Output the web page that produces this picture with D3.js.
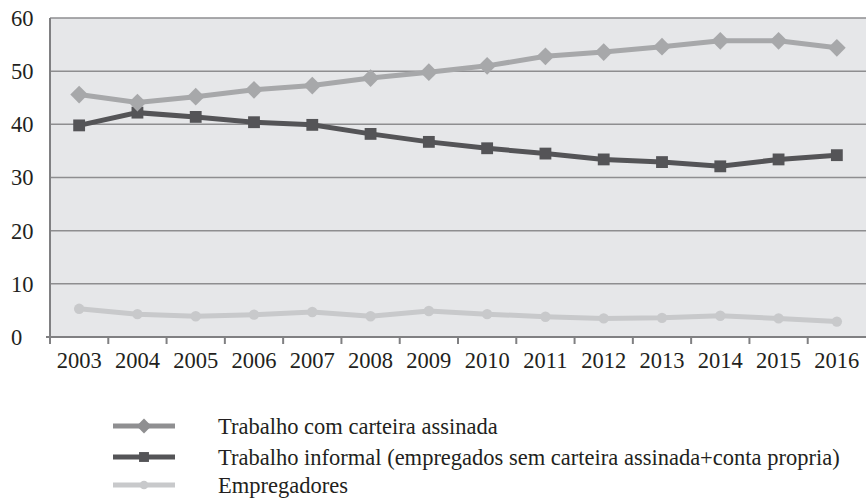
<!DOCTYPE html>
<html>
<head>
<meta charset="utf-8">
<script src="https://cdn.jsdelivr.net/npm/d3@7"></script>
<style>
  body { margin: 0; background: #fff; }
  text { font-family: "Liberation Serif", "Times New Roman", serif; fill: #231f20; }
</style>
</head>
<body>
<script>
const width = 868;
const height = 498;
const margin = { top: 18, right: 2, bottom: 161, left: 50 };

const anos = ["2003", "2004", "2005", "2006", "2007", "2008", "2009",
  "2010", "2011", "2012", "2013", "2014", "2015", "2016"];
const carteira = [45.6, 44.1, 45.2, 46.5, 47.3, 48.7, 49.8, 51.0, 52.8, 53.6, 54.6, 55.7, 55.7, 54.4];
const informal = [39.8, 42.2, 41.4, 40.4, 39.9, 38.2, 36.7, 35.5, 34.5, 33.4, 32.9, 32.1, 33.4, 34.2];
const empregadores = [5.3, 4.3, 3.9, 4.2, 4.7, 3.9, 4.9, 4.3, 3.8, 3.5, 3.6, 4.0, 3.5, 2.9];
const ticksY = [0, 10, 20, 30, 40, 50, 60];

const series = [
  { nome: "Trabalho com carteira assinada", valores: carteira, cor: "#a7a8aa", corLegenda: "#8f8f91", simbolo: d3.symbolDiamond2, tam: 200 },
  { nome: "Trabalho informal (empregados sem carteira assinada+conta propria)", valores: informal, cor: "#545457", corLegenda: "#545457", simbolo: d3.symbolSquare, tam: 140 },
  { nome: "Empregadores", valores: empregadores, cor: "#c8c9cb", corLegenda: "#c8c9cb", simbolo: d3.symbolCircle, tam: 85 },
];

const fonte = 22.5;

const svg = d3.select("body").append("svg")
  .attr("width", width)
  .attr("height", height);

const x = d3.scaleBand()
  .domain(anos)
  .range([margin.left, width - margin.right])
  .paddingInner(0);

const y = d3.scaleLinear()
  .domain([0, 60])
  .range([height - margin.bottom, margin.top]);

// fundo
svg.append("rect")
  .attr("x", margin.left)
  .attr("y", margin.top)
  .attr("width", width - margin.right - margin.left)
  .attr("height", y(0) - margin.top)
  .attr("fill", "#e6e7e9");

// grade
svg.append("g")
  .selectAll("line")
  .data(ticksY.slice(1))
  .join("line")
  .attr("x1", margin.left)
  .attr("x2", width - margin.right)
  .attr("y1", (d) => y(d))
  .attr("y2", (d) => y(d))
  .attr("stroke", "#8e8e90")
  .attr("stroke-width", 1.5);

// rótulos do eixo y
svg.append("g")
  .selectAll("text")
  .data(ticksY)
  .join("text")
  .attr("x", 11)
  .attr("y", (d) => y(d))
  .attr("dy", "0.35em")
  .attr("font-size", fonte)
  .text((d) => d);

// eixo y
svg.append("line")
  .attr("x1", margin.left).attr("x2", margin.left)
  .attr("y1", margin.top).attr("y2", y(0) + 7)
  .attr("stroke", "#808082")
  .attr("stroke-width", 2);

// eixo x
svg.append("line")
  .attr("x1", margin.left - 4).attr("x2", width - margin.right)
  .attr("y1", y(0)).attr("y2", y(0))
  .attr("stroke", "#808082")
  .attr("stroke-width", 2);

svg.append("g")
  .selectAll("line")
  .data(anos.slice(1))
  .join("line")
  .attr("x1", (d) => x(d))
  .attr("x2", (d) => x(d))
  .attr("y1", y(0))
  .attr("y2", y(0) + 7)
  .attr("stroke", "#808082")
  .attr("stroke-width", 2);

const eixoX = d3.axisBottom(x).tickSize(0).tickPadding(15);
svg.append("g")
  .attr("transform", `translate(0, ${y(0)})`)
  .call(eixoX)
  .call((g) => g.select(".domain").remove())
  .selectAll("text")
  .attr("font-size", fonte)
  .attr("font-family", "Liberation Serif, Times New Roman, serif")
  .attr("fill", "#231f20");

// linhas
const linha = d3.line()
  .x((d, i) => x(anos[i]) + x.bandwidth() / 2)
  .y((d) => y(d));

const grupos = svg.append("g")
  .selectAll("g")
  .data(series.slice().reverse())
  .join("g");

grupos.append("path")
  .attr("d", (s) => linha(s.valores))
  .attr("fill", "none")
  .attr("stroke", (s) => s.cor)
  .attr("stroke-width", 5);

grupos.each(function (s) {
  d3.select(this)
    .selectAll("path.marca")
    .data(s.valores)
    .join("path")
    .attr("class", "marca")
    .attr("transform", (d, i) => `translate(${x(anos[i]) + x.bandwidth() / 2}, ${y(d)})`)
    .attr("d", d3.symbol(s.simbolo, s.tam))
    .attr("fill", s.cor);
});

// legenda
const legY = [426, 457, 485];
const legenda = svg.append("g")
  .selectAll("g")
  .data(series)
  .join("g")
  .attr("transform", (d, i) => `translate(0, ${legY[i]})`);

legenda.append("line")
  .attr("x1", 113).attr("x2", 175)
  .attr("stroke", (d) => d.corLegenda)
  .attr("stroke-width", 5);

legenda.append("path")
  .attr("transform", "translate(144, 0)")
  .attr("d", (d) => d3.symbol(d.simbolo, d.tam * 0.7)())
  .attr("fill", (d) => d.corLegenda);

legenda.append("text")
  .attr("x", 218)
  .attr("dy", "0.35em")
  .attr("font-size", fonte)
  .text((d) => d.nome);
</script>
</body>
</html>
